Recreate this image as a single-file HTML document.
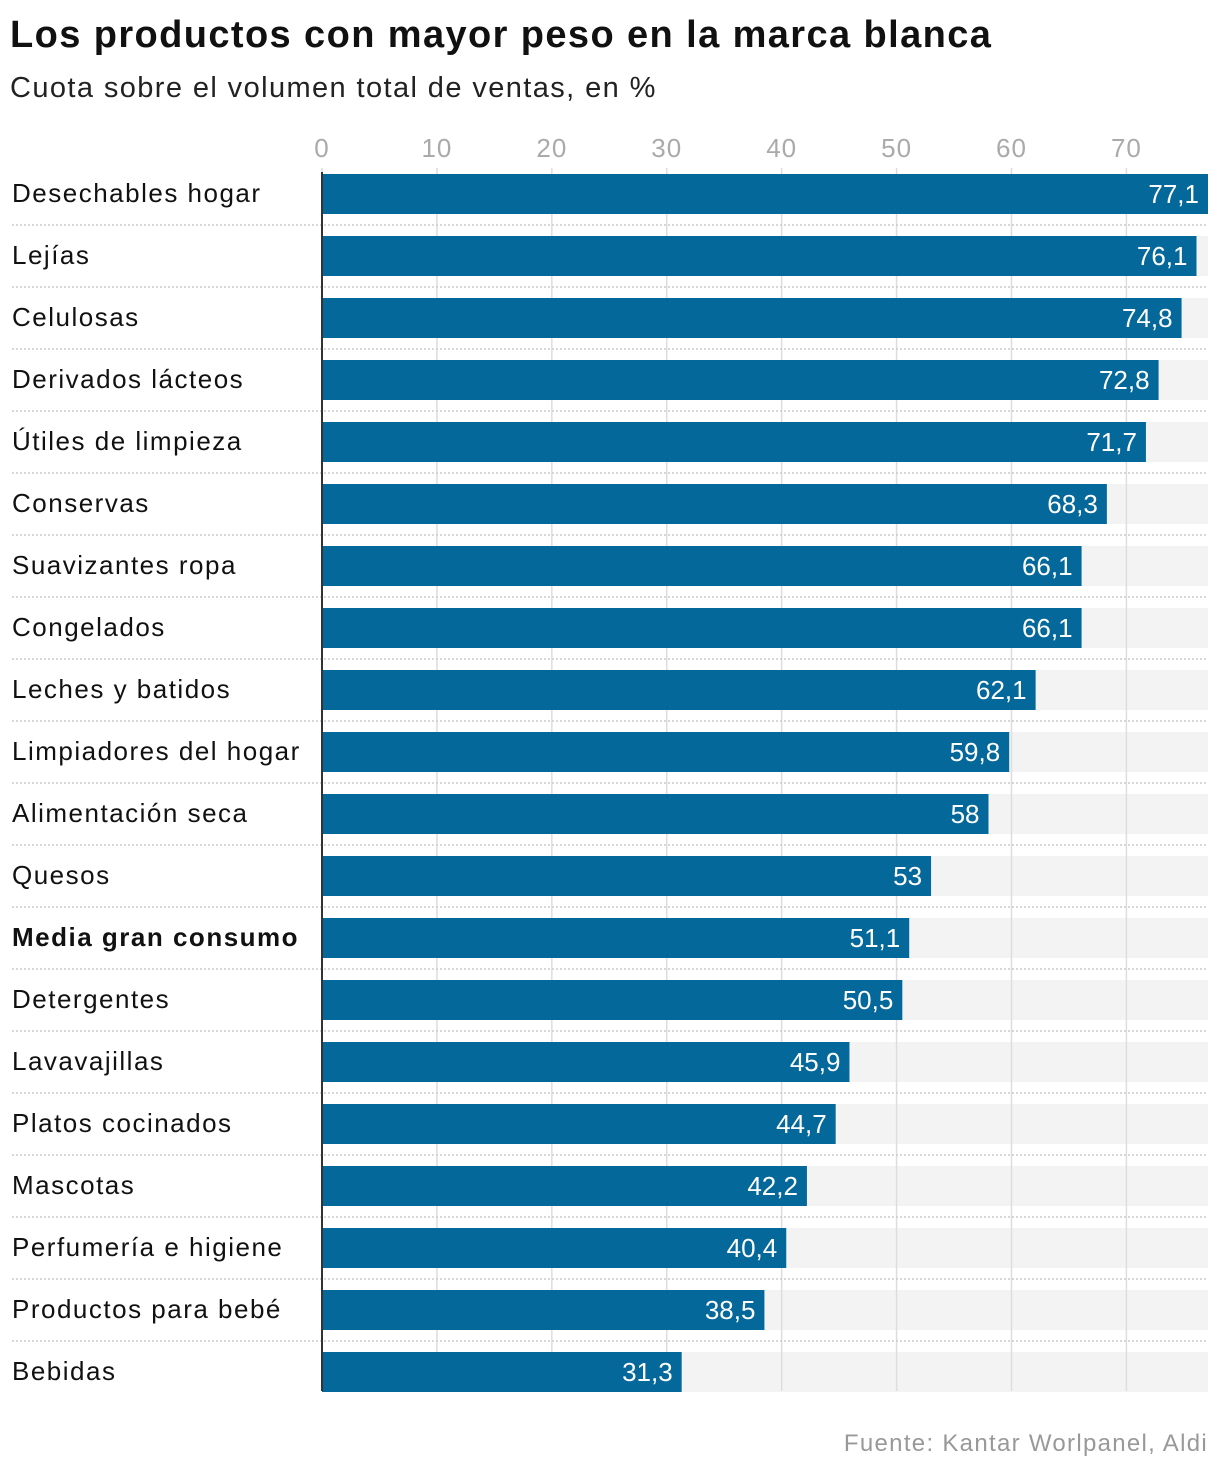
<!DOCTYPE html>
<html><head><meta charset="utf-8"><style>
body{margin:0;background:#fff;width:1220px;height:1476px;overflow:hidden;font-family:"Liberation Sans",Arial,sans-serif;}
#title{position:absolute;left:10px;top:14px;font-size:38px;font-weight:bold;color:#111;letter-spacing:1.4px;margin:0;white-space:nowrap}
#sub{position:absolute;left:10px;top:72px;font-size:29px;color:#222;margin:0;letter-spacing:1.4px;white-space:nowrap}
#src{position:absolute;right:12px;top:1430px;font-size:24px;color:#999;letter-spacing:1.3px}
svg{position:absolute;left:0;top:0}
</style></head><body>
<h1 id="title">Los productos con mayor peso en la marca blanca</h1>
<p id="sub">Cuota sobre el volumen total de ventas, en %</p>
<svg id="chart" width="1220" height="1476"></svg>
<div id="src">Fuente: Kantar Worlpanel, Aldi</div>
<script>
const categories=["Desechables hogar","Lejías","Celulosas","Derivados lácteos","Útiles de limpieza","Conservas","Suavizantes ropa","Congelados","Leches y batidos","Limpiadores del hogar","Alimentación seca","Quesos","Media gran consumo","Detergentes","Lavavajillas","Platos cocinados","Mascotas","Perfumería e higiene","Productos para bebé","Bebidas"];
const values=[77.1,76.1,74.8,72.8,71.7,68.3,66.1,66.1,62.1,59.8,58,53,51.1,50.5,45.9,44.7,42.2,40.4,38.5,31.3];
const valueLabels=["77,1","76,1","74,8","72,8","71,7","68,3","66,1","66,1","62,1","59,8","58","53","51,1","50,5","45,9","44,7","42,2","40,4","38,5","31,3"];
const ticks=[0,10,20,30,40,50,60,70];
const boldCategory="Media gran consumo";

const svg=document.getElementById('chart');
const NS='http://www.w3.org/2000/svg';
const x0=322, xMaxVal=77.1, xMaxPx=1208;
const x=v=>x0+(v/xMaxVal)*(xMaxPx-x0);
const rowTop=i=>174+i*62;
const barH=40;
function mk(tag,attrs){const e=document.createElementNS(NS,tag);for(const k in attrs)e.setAttribute(k,attrs[k]);svg.appendChild(e);return e;}

categories.forEach((c,i)=>{
  const r=mk('rect',{x:x0,y:rowTop(i),width:xMaxPx-x0,height:barH,fill:'#f3f3f3'});
  
  
});
ticks.forEach(t=>{
  const l=mk('line',{x1:x(t),x2:x(t),y1:168,y2:1391,stroke:'#ddd','stroke-width':1.5});
  
  
  const tx=mk('text',{x:x(t),y:157,'text-anchor':'middle','font-size':26,fill:'#aaa','letter-spacing':1});
  tx.textContent=t;
  
  
});
categories.forEach((c,i)=>{
  if(i<categories.length-1){
    const l=mk('line',{x1:12,x2:1208,y1:rowTop(i)+51,y2:rowTop(i)+51,stroke:'#ccc','stroke-width':1.5,'stroke-dasharray':'2,2'});
    
    
  }
});
categories.forEach((c,i)=>{
  const r=mk('rect',{x:x0,y:rowTop(i),width:x(values[i])-x0,height:barH,fill:'#05689b'});
  
  
  const v=mk('text',{x:x(values[i])-9,y:rowTop(i)+29,'text-anchor':'end','font-size':26,fill:'#fff'});
  v.textContent=valueLabels[i];
  
  
  const lb=mk('text',{x:12,y:rowTop(i)+28,'font-size':26,fill:'#111','letter-spacing':1.5,'font-weight':c===boldCategory?'bold':'normal'});
  lb.textContent=c;
  
  
});
const ax=mk('line',{x1:x0,x2:x0,y1:172,y2:1391,stroke:'#333','stroke-width':2});


</script>
</body></html>
